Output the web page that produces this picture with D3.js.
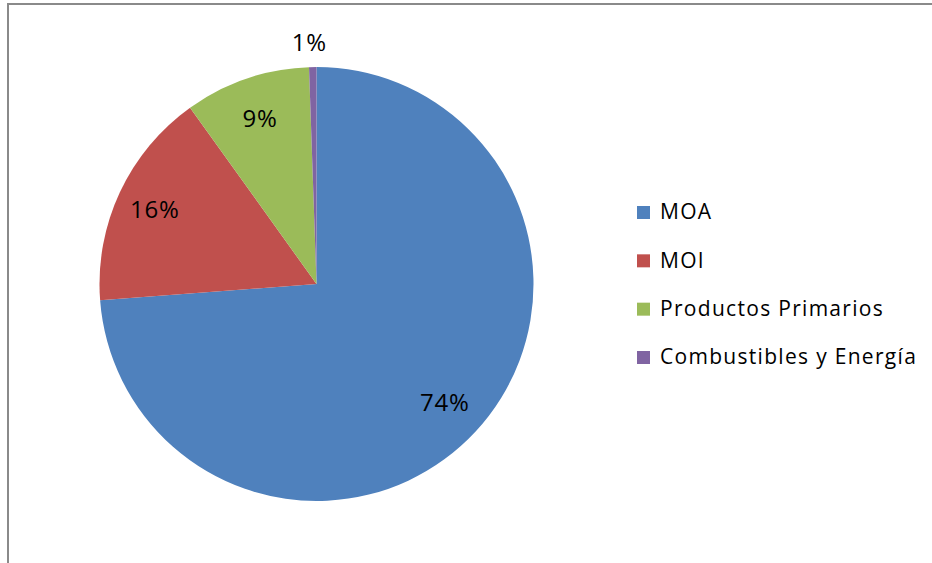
<!DOCTYPE html>
<html>
<head>
<meta charset="utf-8">
<script src="https://cdn.jsdelivr.net/npm/d3@7"></script>
<style>
  body { margin: 0; background: #fff; }
  svg { display: block; }
</style>
</head>
<body>
<div id="chart"></div>
<script>
(function() {
  // data
  var categories = ["MOA", "MOI", "Productos Primarios", "Combustibles y Energía"];
  var shares = [73.8, 16.3, 9.35, 0.55];
  var labels = ["74%", "16%", "9%", "1%"];
  var colors = ["#4F81BD", "#C0504D", "#9BBB59", "#8064A2"];

  var width = 932, height = 563;

  var svg = d3.select("#chart")
    .append("svg")
    .attr("width", width)
    .attr("height", height);

  // chart area frame (only top and left edges are visible)
  svg.append("rect")
    .attr("x", 8)
    .attr("y", 4)
    .attr("width", width + 20)
    .attr("height", height + 20)
    .attr("fill", "#fff")
    .attr("stroke", "#8a8a8a")
    .attr("stroke-width", 2);

  var cx = 316.5, cy = 284, radius = 217;

  var data = categories.map(function(c, i) {
    return { name: c, value: shares[i], label: labels[i], color: colors[i] };
  });

  var pie = d3.pie()
    .sort(null)
    .value(function(d) { return d.value; });

  var arc = d3.arc()
    .innerRadius(0)
    .outerRadius(radius);

  var labelArc = d3.arc()
    .innerRadius(175)
    .outerRadius(175);

  var outerArc = d3.arc()
    .innerRadius(radius + 24)
    .outerRadius(radius + 24);

  var g = svg.append("g")
    .attr("transform", "translate(" + cx + "," + cy + ")");

  var slices = pie(data);

  g.selectAll("path")
    .data(slices)
    .enter().append("path")
    .attr("d", arc)
    .attr("fill", function(d) { return d.data.color; });

  g.selectAll("text.pct")
    .data(slices)
    .enter().append("text")
    .attr("class", "pct")
    .attr("transform", function(d) {
      var small = d.data.value < 2;
      var p = small ? outerArc.centroid(d) : labelArc.centroid(d);
      if (small) p[0] -= 3;
      else if (d.index == 1) p[0] -= 3;
      return "translate(" + p[0] + "," + p[1] + ")";
    })
    .attr("text-anchor", "middle")
    .attr("dy", "0.35em")
    .attr("font-family", "'Open Sans', sans-serif")
    .attr("font-size", 24)
    .attr("letter-spacing", 0.8)
    .attr("fill", "#000")
    .text(function(d) { return d.data.label; });

  // legend
  var legend = svg.append("g")
    .attr("transform", "translate(637,212)");

  var rowScale = d3.scalePoint()
    .domain(categories)
    .range([0, 145]);

  var rows = legend.selectAll("g")
    .data(data)
    .enter().append("g")
    .attr("transform", function(d) { return "translate(0," + rowScale(d.name) + ")"; });

  rows.append("rect")
    .attr("x", 0)
    .attr("y", -6)
    .attr("width", 13)
    .attr("height", 13)
    .attr("fill", function(d) { return d.color; });

  rows.append("text")
    .attr("x", 23)
    .attr("dy", "0.35em")
    .attr("font-family", "'Open Sans', sans-serif")
    .attr("font-size", 21)
    .attr("letter-spacing", 1.3)
    .attr("fill", "#000")
    .text(function(d) { return d.name; });
})();
</script>
</body>
</html>
